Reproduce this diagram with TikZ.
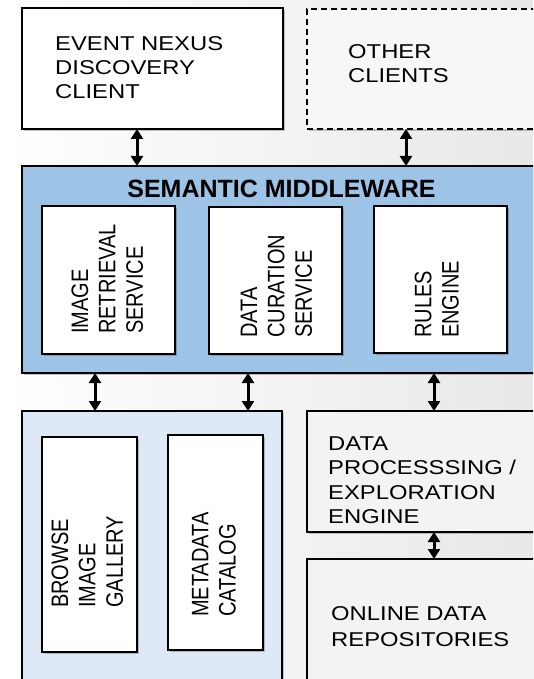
\documentclass[tikz,border=0pt]{standalone}
\usepackage{fontspec}
\setmainfont{Liberation Sans}
\newfontfamily\hfont[FakeStretch=1.19]{Liberation Sans}
\usetikzlibrary{arrows.meta,shadows}
\definecolor{mwblue}{HTML}{9DC3E6}
\definecolor{lightblue}{HTML}{DFE9F5}
\definecolor{boxgray}{HTML}{F3F3F3}
\definecolor{othergray}{HTML}{F7F7F7}
\tikzset{
  box/.style={draw=black, line width=1.8pt, anchor=north west, inner sep=0pt, outer sep=0pt,
    drop shadow={shadow xshift=2pt, shadow yshift=-2pt, opacity=0.22, fill=black}},
  htext/.style={anchor=base west, inner sep=0pt},
  vtext/.style={anchor=west, inner sep=0pt, rotate=90},
  biarr/.style={line width=3pt, {Triangle[width=12pt,length=10pt]}-{Triangle[width=12pt,length=10pt]}},
}
\newcommand{\hlines}[2]{{\hfont\fontsize{20}{#1}\selectfont\begin{tabular}[t]{@{}l@{}}#2\end{tabular}}}
\newcommand{\vlines}[1]{\scalebox{1}[1.19]{\fontsize{20}{23}\selectfont\begin{tabular}{@{}l@{}}#1\end{tabular}}}
\begin{document}
\begin{tikzpicture}[x=1pt,y=-1pt]
\useasboundingbox (0,0) rectangle (533,679);
\clip (0,0) rectangle (533,679);
\shade[left color=white, right color=black!9] (0,0) rectangle (533,679);

% top clients
\node[box, fill=white, minimum width=261pt, minimum height=121pt] (client) at (22,8) {};
\node[box, fill=othergray, dash pattern=on 6pt off 4pt, minimum width=240pt, minimum height=120pt] (other) at (307,9) {};
\node[htext] (tclient) at (55,51) {\hlines{23.6}{EVENT NEXUS\\DISCOVERY\\CLIENT}};
\node[htext] (tother) at (348,59) {\hlines{24}{OTHER\\CLIENTS}};

% middleware
\node[box, fill=mwblue, minimum width=525pt, minimum height=207pt] (mw) at (22,166) {};
\node[anchor=base, inner sep=0pt, font=\bfseries\fontsize{25}{30}\selectfont] (title) at (281.5,197) {SEMANTIC MIDDLEWARE};
\node[box, fill=white, minimum width=133pt, minimum height=148pt] (img) at (42,206) {};
\node[box, fill=white, minimum width=133pt, minimum height=147pt] (cur) at (209,207) {};
\node[box, fill=white, minimum width=133pt, minimum height=147pt] (rules) at (374,206) {};
\node[vtext] (timg) at (110,334) {\vlines{IMAGE\\RETRIEVAL\\SERVICE}};
\node[vtext] (tcur) at (279,338) {\vlines{DATA\\CURATION\\SERVICE}};
\node[vtext] (trules) at (439.5,338) {\vlines{RULES\\ENGINE}};

% bottom left
\node[box, fill=lightblue, minimum width=260pt, minimum height=290pt] (bl) at (22,411) {};
\node[box, fill=white, minimum width=95pt, minimum height=215pt] (browse) at (42,437) {};
\node[box, fill=white, minimum width=95pt, minimum height=215pt] (meta) at (168,435) {};
\node[vtext] (tbrowse) at (90,608) {\vlines{BROWSE\\IMAGE\\GALLERY}};
\node[vtext] (tmeta) at (216.5,617) {\vlines{METADATA\\CATALOG}};

% bottom right
\node[box, fill=boxgray, minimum width=240pt, minimum height=121pt] (proc) at (307,411) {};
\node[box, fill=boxgray, minimum width=240pt, minimum height=140pt] (online) at (307,559) {};
\node[htext] (tproc) at (328,450) {\hlines{24.6}{DATA\\PROCESSSING /\\EXPLORATION\\ENGINE}};
\node[htext] (tonline) at (331,620.7) {\hlines{25.3}{ONLINE DATA\\REPOSITORIES}};

% connectors
\coordinate (a1) at ([xshift=115pt]client.south west);
\coordinate (a2) at ([xshift=99pt]other.south west);
\coordinate (b1) at ([xshift=73pt]mw.south west);
\coordinate (b2) at ([xshift=226pt]mw.south west);
\coordinate (b3) at ([xshift=412pt]mw.south west);
\coordinate (c1) at ([xshift=127pt]proc.south west);
\draw[biarr] (a1) -- (a1 |- mw.north);
\draw[biarr] (a2) -- (a2 |- mw.north);
\draw[biarr] (b1) -- (b1 |- bl.north);
\draw[biarr] (b2) -- (b2 |- bl.north);
\draw[biarr] (b3) -- (b3 |- proc.north);
\draw[biarr] (c1) -- (c1 |- online.north);
\end{tikzpicture}
\end{document}
